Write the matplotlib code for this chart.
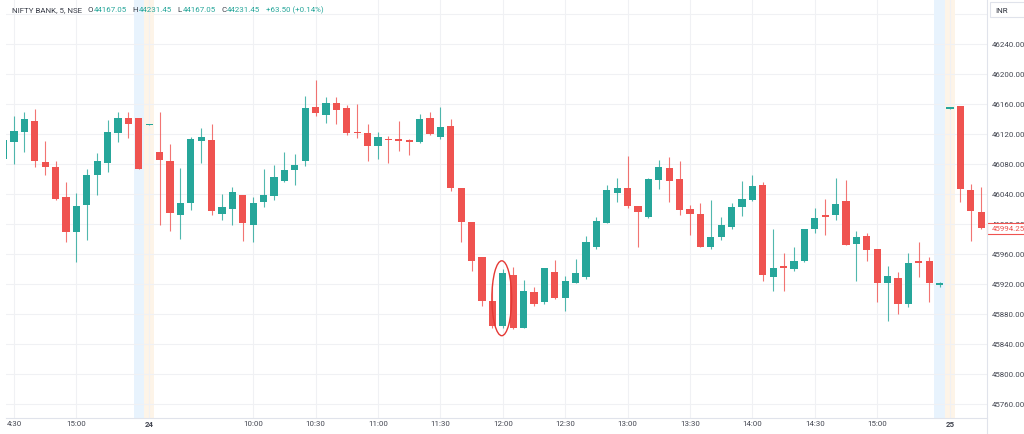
import matplotlib
matplotlib.use('Agg')
import matplotlib.pyplot as plt
from matplotlib.patches import Ellipse, Rectangle
from matplotlib.lines import Line2D

plt.rcParams['font.family'] = ['Roboto', 'DejaVu Sans']

# ---------------- data (5-minute candles, NIFTY BANK) ----------------
opens = [46087, 46110, 46123, 46137, 46082, 46076, 46036, 45990, 46025, 46066,
         46082, 46122, 46141, 46141, 46132, 46096, 46084, 46012, 46028, 46111,
         46112, 46013, 46020, 46039, 45999, 46029, 46038, 46058, 46072, 46084,
         46156, 46146, 46161, 46154, 46122, 46121, 46104, 46114, 46114, 46112,
         46109, 46141, 46116, 46131, 46048, 46002, 45956, 45897, 45864, 45932,
         45862, 45909, 45896, 45936, 45901, 45922, 45930, 45970, 46002, 46042,
         46048, 46024, 46010, 46059, 46074, 46060, 46020, 46013, 45970, 45983,
         45996, 46023, 46032, 46052, 45930, 45944, 45940, 45951, 45994, 46012,
         46012, 46030, 45974, 45984, 45966, 45921, 45928, 45894, 45951, 45950,
         45919, 46154, 46157, 46045, 46016]
highs = [46113, 46144, 46149, 46153, 46111, 46084, 46056, 46041, 46073, 46095,
         46139, 46150, 46149, 46141, 46133, 46149, 46107, 46075, 46116, 46128,
         46134, 46040, 46049, 46039, 46036, 46073, 46079, 46096, 46093, 46171,
         46192, 46170, 46170, 46159, 46160, 46133, 46123, 46118, 46137, 46113,
         46147, 46149, 46156, 46140, 46048, 46002, 45956, 45922, 45940, 45943,
         45925, 45916, 45942, 45952, 45931, 45953, 45984, 46010, 46052, 46062,
         46091, 46024, 46062, 46085, 46089, 46084, 46025, 46028, 46032, 46009,
         46028, 46057, 46066, 46056, 45993, 45961, 45969, 45993, 46022, 46033,
         46062, 46059, 45991, 45988, 45966, 45944, 45936, 45962, 45976, 45956,
         45923, 46155, 46157, 46054, 46050]
lows = [46085, 46080, 46096, 46076, 46065, 46032, 45976, 45950, 45979, 46039,
        46070, 46110, 46115, 46074, 46132, 45999, 45991, 45980, 46019, 46081,
        46012, 46006, 45999, 45978, 45976, 46023, 46032, 46056, 46052, 46078,
        46144, 46135, 46133, 46119, 46115, 46084, 46087, 46081, 46098, 46092,
        46108, 46119, 46113, 46044, 45976, 45938, 45891, 45862, 45862, 45860,
        45862, 45891, 45894, 45900, 45884, 45921, 45927, 45967, 46001, 46030,
        46022, 45969, 46008, 46047, 46030, 46012, 45986, 45969, 45967, 45979,
        45993, 46011, 46031, 45924, 45911, 45911, 45938, 45950, 45988, 45985,
        46005, 45972, 45924, 45951, 45896, 45871, 45880, 45889, 45930, 45896,
        45916, 46154, 46030, 45978, 45994]
closes = [46112, 46124, 46140, 46084, 46076, 46033, 45990, 46024, 46065, 46084,
          46123, 46141, 46133, 46074, 46133, 46086, 46015, 46028, 46113, 46116,
          46017, 46023, 46042, 46001, 46028, 46039, 46063, 46072, 46078, 46154,
          46148, 46161, 46152, 46122, 46121, 46104, 46116, 46112, 46111, 46109,
          46140, 46120, 46129, 46048, 46003, 45951, 45897, 45864, 45935, 45862,
          45911, 45894, 45941, 45901, 45924, 45935, 45976, 46004, 46045, 46048,
          46024, 46016, 46060, 46076, 46058, 46019, 46014, 45970, 45982, 45998,
          46022, 46033, 46050, 45932, 45941, 45941, 45950, 45993, 46008, 46009,
          46026, 45972, 45983, 45965, 45921, 45931, 45894, 45948, 45948, 45921,
          45922, 46155, 46047, 46017, 45994.25]

tick_positions = [1, 7, 14, 24, 30, 36, 42, 48, 54, 60, 66, 72, 78, 84, 91]
tick_labels = ["4:30", "15:00", "24", "10:00", "10:30", "11:00", "11:30", "12:00",
               "12:30", "13:00", "13:30", "14:00", "14:30", "15:00", "25"]
day_labels = ["24", "25"]
price_ticks = [45760, 45800, 45840, 45880, 45920, 45960, 46000, 46040,
               46080, 46120, 46160, 46200, 46240]
extra_grid_price = [46280]
post_market_slots = [13, 90]
pre_market_slots = [14, 91]
highlight_index = 48
last_price = 45994.25

header_symbol = "NIFTY BANK, 5, NSE"
header_ohlc = [("O", "44167.05"), ("H", "44231.45"), ("L", "44167.05"), ("C", "44231.45")]
header_change = "+63.50 (+0.14%)"
currency = "INR"

# ---------------- style ----------------
UP = '#26a69a'
DOWN = '#ef5350'
GRID = '#f0f1f4'
BORDER = '#e0e3eb'
TXT = '#434651'
FS = 5.7

W, H = 1024, 435
fig = plt.figure(figsize=(W / 100, H / 100), dpi=100)
px_left, px_right, px_top, px_bottom = 6, 987, 0, 419
ax = fig.add_axes([px_left / W, (H - px_bottom) / H,
                   (px_right - px_left) / W, (px_bottom - px_top) / H])

step = 10.4          # pixels per candle
x_first = 14.0       # pixel x of candle index 1
ax.set_xlim(1 + (px_left - x_first) / step, 1 + (px_right - x_first) / step)
ppp = 0.75           # pixels per price point
ax.set_ylim(46240 - (px_bottom - 45) / ppp, 46240 + 45 / ppp)

idx = list(range(len(opens)))
colors = [UP if c >= o else DOWN for o, c in zip(opens, closes)]
bottoms = [min(o, c) for o, c in zip(opens, closes)]
heights = [max(abs(c - o), 1.8) for o, c in zip(opens, closes)]

# sessions shading
for s in post_market_slots:
    ax.axvspan(s - 0.5, s + 0.5, color='#e8f3fd', zorder=0.5, lw=0)
for s in pre_market_slots:
    ax.axvspan(s - 0.5, s + 0.5, color='#fdf4e8', zorder=0.5, lw=0)

# wicks + bodies
ax.vlines(idx, lows, highs, colors=colors, linewidth=0.8, alpha=0.8, zorder=2)
ax.bar(idx, heights, bottom=bottoms, width=0.7, color=colors, linewidth=0, zorder=3)

# highlight ellipse
hi, lo = highs[highlight_index], lows[highlight_index]
ax.add_patch(Ellipse((highlight_index - 0.1, (hi + lo) / 2), 1.9, (hi - lo) * 1.28,
                     fill=False, edgecolor='#e53935', lw=1.0, zorder=4))

# axes / grid
ax.set_xticks(tick_positions)
ax.set_xticklabels(tick_labels)
for lab in ax.get_xticklabels():
    if lab.get_text() in day_labels:
        lab.set_fontweight('bold')
        lab.set_color('#2a2e39')
ax.yaxis.tick_right()
ax.set_yticks(price_ticks)
ax.set_yticklabels([f"{p:.2f}" for p in price_ticks])
ax.tick_params(axis='x', length=0, pad=1.6, labelsize=FS, colors=TXT)
ax.tick_params(axis='y', length=0, pad=3.4, labelsize=FS, colors=TXT)
ax.grid(True, color=GRID, lw=0.8, zorder=0)
for p in extra_grid_price:
    ax.axhline(p, color=GRID, lw=0.8, zorder=0)
ax.set_axisbelow(True)
for sp in ['top', 'left', 'right']:
    ax.spines[sp].set_visible(False)
ax.spines['bottom'].set_color(BORDER)
ax.spines['bottom'].set_linewidth(0.8)

# price-axis border (full height)
fig.add_artist(Line2D([px_right / W, px_right / W], [0, 1], transform=fig.transFigure,
                      color=BORDER, lw=0.8))

# last price label (covers the 46000 label like in the original)
tr = ax.get_yaxis_transform()
ax.add_patch(Rectangle((1.0, last_price - 7.2), 40 / (px_right - px_left), 14.4,
                       transform=tr, clip_on=False, facecolor='white',
                       edgecolor=DOWN, lw=0.8, zorder=5))
ax.text(1.0 + 4.7 / (px_right - px_left), last_price, f"{last_price:.2f}", transform=tr,
        color=DOWN, fontsize=FS, va='center', ha='left', zorder=6, clip_on=False)

# currency box
fig.add_artist(Rectangle((989.5 / W, (H - 18) / H), 40 / W, 15 / H,
                         transform=fig.transFigure, facecolor='white',
                         edgecolor=BORDER, lw=0.8))
fig.text(995 / W, 1 - 11 / H, currency, fontsize=FS, color='#2a2e39',
         va='center', ha='left')

# header legend
t = fig.text(12 / W, 1 - 10.5 / H, header_symbol, fontsize=FS, color='#3a3e49',
             va='center', ha='left')
prev = t
for k, v in header_ohlc:
    a = ax.annotate(k, xy=(1, 0.5), xycoords=prev, xytext=(4, 0),
                    textcoords='offset points', fontsize=FS, color='#3a3e49',
                    va='center', ha='left', annotation_clip=False)
    b = ax.annotate(v, xy=(1, 0.5), xycoords=a, xytext=(0.6, 0),
                    textcoords='offset points', fontsize=FS, color=UP,
                    va='center', ha='left', annotation_clip=False)
    prev = b
ax.annotate(header_change, xy=(1, 0.5), xycoords=prev, xytext=(4, 0),
            textcoords='offset points', fontsize=FS, color=UP,
            va='center', ha='left', annotation_clip=False)

fig.savefig('out.png', dpi=100, facecolor='white')
